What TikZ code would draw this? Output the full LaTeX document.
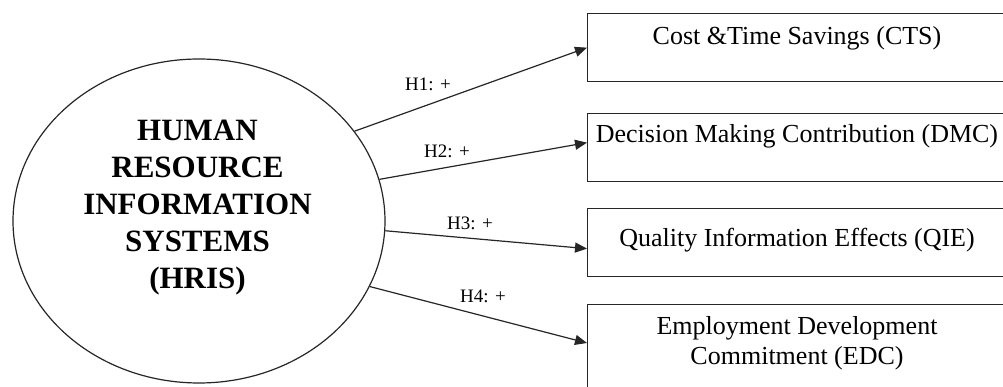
\documentclass[tikz,border=0pt]{standalone}
\usepackage{fontspec}
\setmainfont{Liberation Serif}
\usetikzlibrary{shapes.geometric,arrows.meta}
\begin{document}
\begin{tikzpicture}[x=1pt,y=1pt,
  boxstyle/.style={draw=black!85, line width=1.3pt, rectangle, minimum width=420pt, minimum height=68pt, inner sep=0pt, anchor=north west},
  boxtext/.style={font=\fontsize{26}{30}\selectfont, anchor=base, inner sep=0pt, align=center},
  hyp/.style={font=\fontsize{19}{22}\selectfont, anchor=base west, inner sep=0pt},
  arr/.style={draw=black!85, line width=1.2pt, -{Triangle[length=12pt,width=10pt]}},
]
\useasboundingbox (0,0) rectangle (1003,387);
\clip (0,0) rectangle (1003,387);
\fill[white] (0,0) rectangle (1003,387);
\node[ellipse, draw=black!85, line width=1.2pt, minimum width=372pt, minimum height=324pt, inner sep=0pt] (hris) at (199,166) {};
\node[font=\bfseries\fontsize{31}{37}\selectfont, align=center, anchor=north, inner sep=0pt] (hristext) at (197.5,267) {HUMAN\\RESOURCE\\INFORMATION\\SYSTEMS\\(HRIS)};

\node[boxstyle] (cts) at (587,374) {};
\node[boxstyle] (dmc) at (587,274) {};
\node[boxstyle] (qie) at (587,179) {};
\node[boxstyle, minimum height=100pt] (edc) at (587,83) {};

\node[boxtext] (ctst) at (797,342) {Cost \&Time Savings (CTS)};
\node[boxtext] (dmct) at (797,244) {Decision Making Contribution (DMC)};
\node[boxtext] (qiet) at (797,140) {Quality Information Effects (QIE)};
\node[boxtext] (edct) at (797,22) {Employment Development\\Commitment (EDC)};

\draw[arr] (hris.30) -- (cts.west);
\draw[arr] (hris.13) -- ([yshift=5pt]dmc.west);
\draw[arr] (hris.-3) -- ([yshift=-6pt]qie.west);
\draw[arr] (hris.-21) -- ([yshift=-39pt]edc.north west);

\node[hyp] (h1) at (405,296) {H1: +};
\node[hyp] (h2) at (424,229) {H2: +};
\node[hyp] (h3) at (447,157) {H3: +};
\node[hyp] (h4) at (460,84) {H4: +};
\end{tikzpicture}
\end{document}
